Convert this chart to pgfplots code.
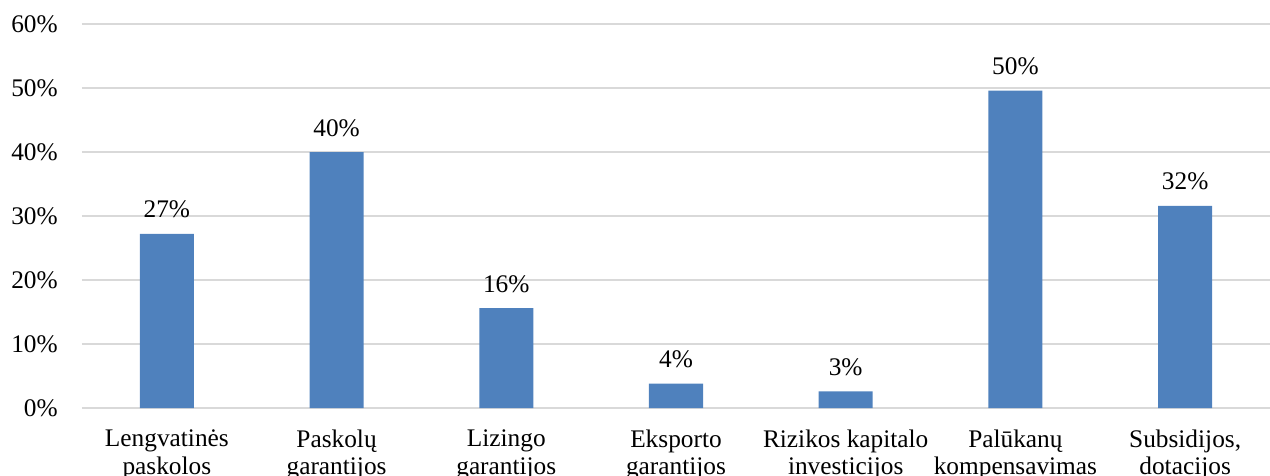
\documentclass[border=0pt]{standalone}
\usepackage{pgfplots}
\pgfplotsset{compat=1.18}
\usepackage{fontspec}
\setmainfont{Liberation Serif}
\definecolor{barblue}{HTML}{4F81BD}
\definecolor{gridgray}{HTML}{D9D9D9}
\begin{document}
\begin{tikzpicture}
\begin{axis}[
  at={(0,0)}, anchor=south west,
  scale only axis,
  width=891pt, height=288pt,
  xmin=-0.5, xmax=6.5,
  ymin=0, ymax=60,
  ytick={0,10,20,30,40,50,60},
  xtick={0,1,2,3,4,5,6},
  xticklabels={{Lengvatinės\\paskolos},{Paskolų\\garantijos},{Lizingo\\garantijos},{Eksporto\\garantijos},{Rizikos kapitalo\\investicijos},{Palūkanų\\kompensavimas},{Subsidijos,\\dotacijos}},
  yticklabel={\pgfmathprintnumber{\tick}\%},
  /pgf/number format/assume math mode=true,
  axis line style={draw=none},
  tick style={draw=none},
  ymajorgrids,
  grid style={color=gridgray, line width=1pt},
  ticklabel style={font=\fontsize{19}{20.5}\selectfont},
  yticklabel style={anchor=east, inner sep=0pt, xshift=-18pt},
  xticklabel style={align=center, anchor=north, inner sep=0pt, yshift=-12pt},
  ybar, bar width=40.5pt,
  nodes near coords={\pgfmathprintnumber[fixed,precision=0]{\pgfplotspointmeta}\%},
  nodes near coords style={font=\fontsize{19}{21.5}\selectfont, anchor=south, inner sep=0pt, yshift=11.5pt, black},
  clip=false,
]
\addplot[fill=barblue, draw=none] coordinates {(0,27.2) (1,40.0) (2,15.6) (3,3.8) (4,2.6) (5,49.6) (6,31.6)};
\end{axis}
\pgfresetboundingbox
\path[use as bounding box] (-61.5pt,-50.25pt) rectangle (891pt,306pt);
\end{tikzpicture}
\end{document}
